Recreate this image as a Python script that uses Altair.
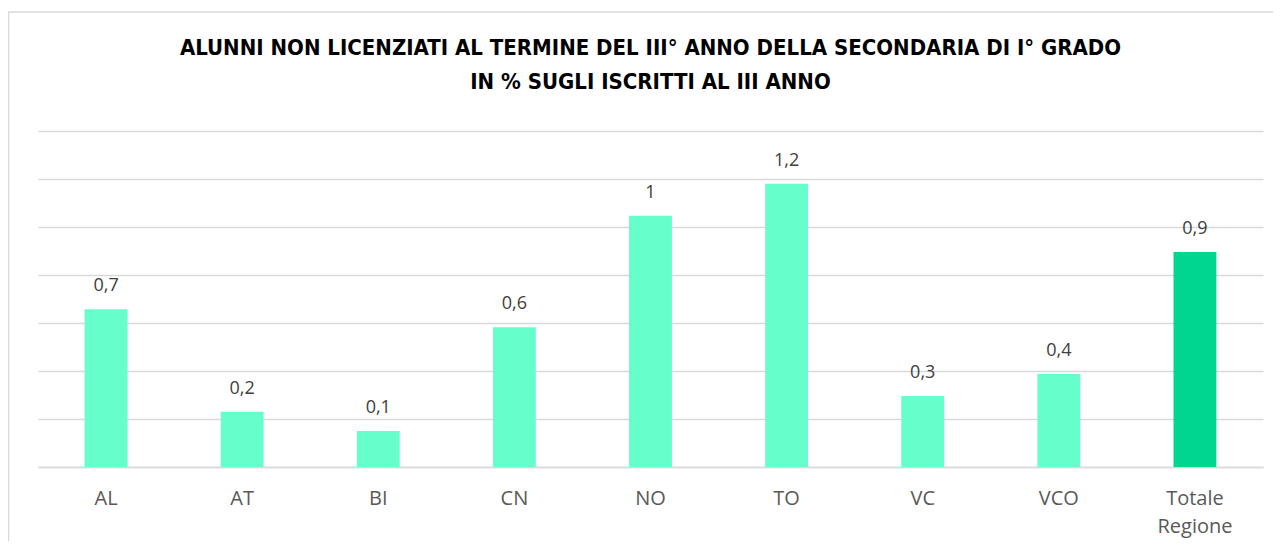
import altair as alt
import pandas as pd

categories = ["AL", "AT", "BI", "CN", "NO", "TO", "VC", "VCO", "Totale Regione"]
values = [0.657, 0.230, 0.150, 0.582, 1.047, 1.180, 0.296, 0.388, 0.896]
value_labels = ["0,7", "0,2", "0,1", "0,6", "1", "1,2", "0,3", "0,4", "0,9"]
groups = ["prov", "prov", "prov", "prov", "prov", "prov", "prov", "prov", "totale"]
grid_values = [0, 0.2, 0.4, 0.6, 0.8, 1.0, 1.2, 1.4]

title_lines = [
    "ALUNNI NON LICENZIATI AL TERMINE DEL III° ANNO DELLA SECONDARIA DI I° GRADO",
    "IN % SUGLI ISCRITTI AL III ANNO",
]

df = pd.DataFrame({"cat": categories, "val": values, "lab": value_labels, "grp": groups})

W, H = 1225, 336
PAD = {"left": 30, "top": 123, "right": 10, "bottom": 74}

x_enc = alt.X(
    "cat:N",
    sort=categories,
    scale=alt.Scale(paddingInner=0.685, paddingOuter=0.3425),
    axis=alt.Axis(
        title=None,
        labelAngle=0,
        labelFont="Open Sans",
        labelFontSize=20,
        labelColor="#595959",
        labelPadding=21,
        labelLineHeight=28,
        labelExpr="datum.label == 'Totale Regione' ? ['Totale', 'Regione'] : datum.label",
        ticks=False,
        domain=True,
        domainColor="#D9D9D9",
        domainWidth=1.5,
        grid=False,
    ),
)
y_enc = alt.Y(
    "val:Q",
    scale=alt.Scale(domain=[0, 1.4], nice=False),
    axis=alt.Axis(
        title=None,
        labels=False,
        ticks=False,
        domain=False,
        grid=True,
        values=grid_values,
        gridColor="#D9D9D9",
        gridWidth=1.5,
    ),
)

base = alt.Chart(df)

bars = base.mark_bar().encode(
    x=x_enc,
    y=y_enc,
    color=alt.Color(
        "grp:N",
        scale=alt.Scale(domain=["prov", "totale"], range=["#66FFCC", "#00D68F"]),
        legend=None,
    ),
)

texts = base.mark_text(
    font="Open Sans", fontSize=18, color="#404040", baseline="middle", dy=-23
).encode(x=alt.X("cat:N", sort=categories), y="val:Q", text="lab:N")

one = pd.DataFrame({"k": [0]})

frame_left = alt.Chart(one).mark_rule(
    color="#D9D9D9", strokeWidth=1.5, clip=False
).encode(x=alt.value(-29.5), y=alt.value(-119), y2=alt.value(H + PAD["bottom"]))

frame_top = alt.Chart(one).mark_rule(
    color="#D9D9D9", strokeWidth=1.5, clip=False
).encode(x=alt.value(-30), x2=alt.value(W + PAD["right"]), y=alt.value(-119))

title_mark = alt.Chart(one).mark_text(
    text=title_lines,
    font="Liberation Sans Narrow, DejaVu Sans Condensed, Roboto Condensed, sans-serif",
    fontSize=22,
    fontWeight="bold",
    color="#000000",
    align="center",
    baseline="middle",
    lineHeight=34,
    clip=False,
).encode(x=alt.value(W / 2), y=alt.value(-83))

chart = (
    alt.layer(frame_left, frame_top, bars, texts, title_mark)
    .properties(
        width=W,
        height=H,
        padding=PAD,
        background="white",
        autosize=alt.AutoSizeParams(type="none"),
    )
    .configure_view(stroke=None, strokeWidth=0)
)

chart.save("out.html", embed_options={"renderer": "svg", "actions": False})
